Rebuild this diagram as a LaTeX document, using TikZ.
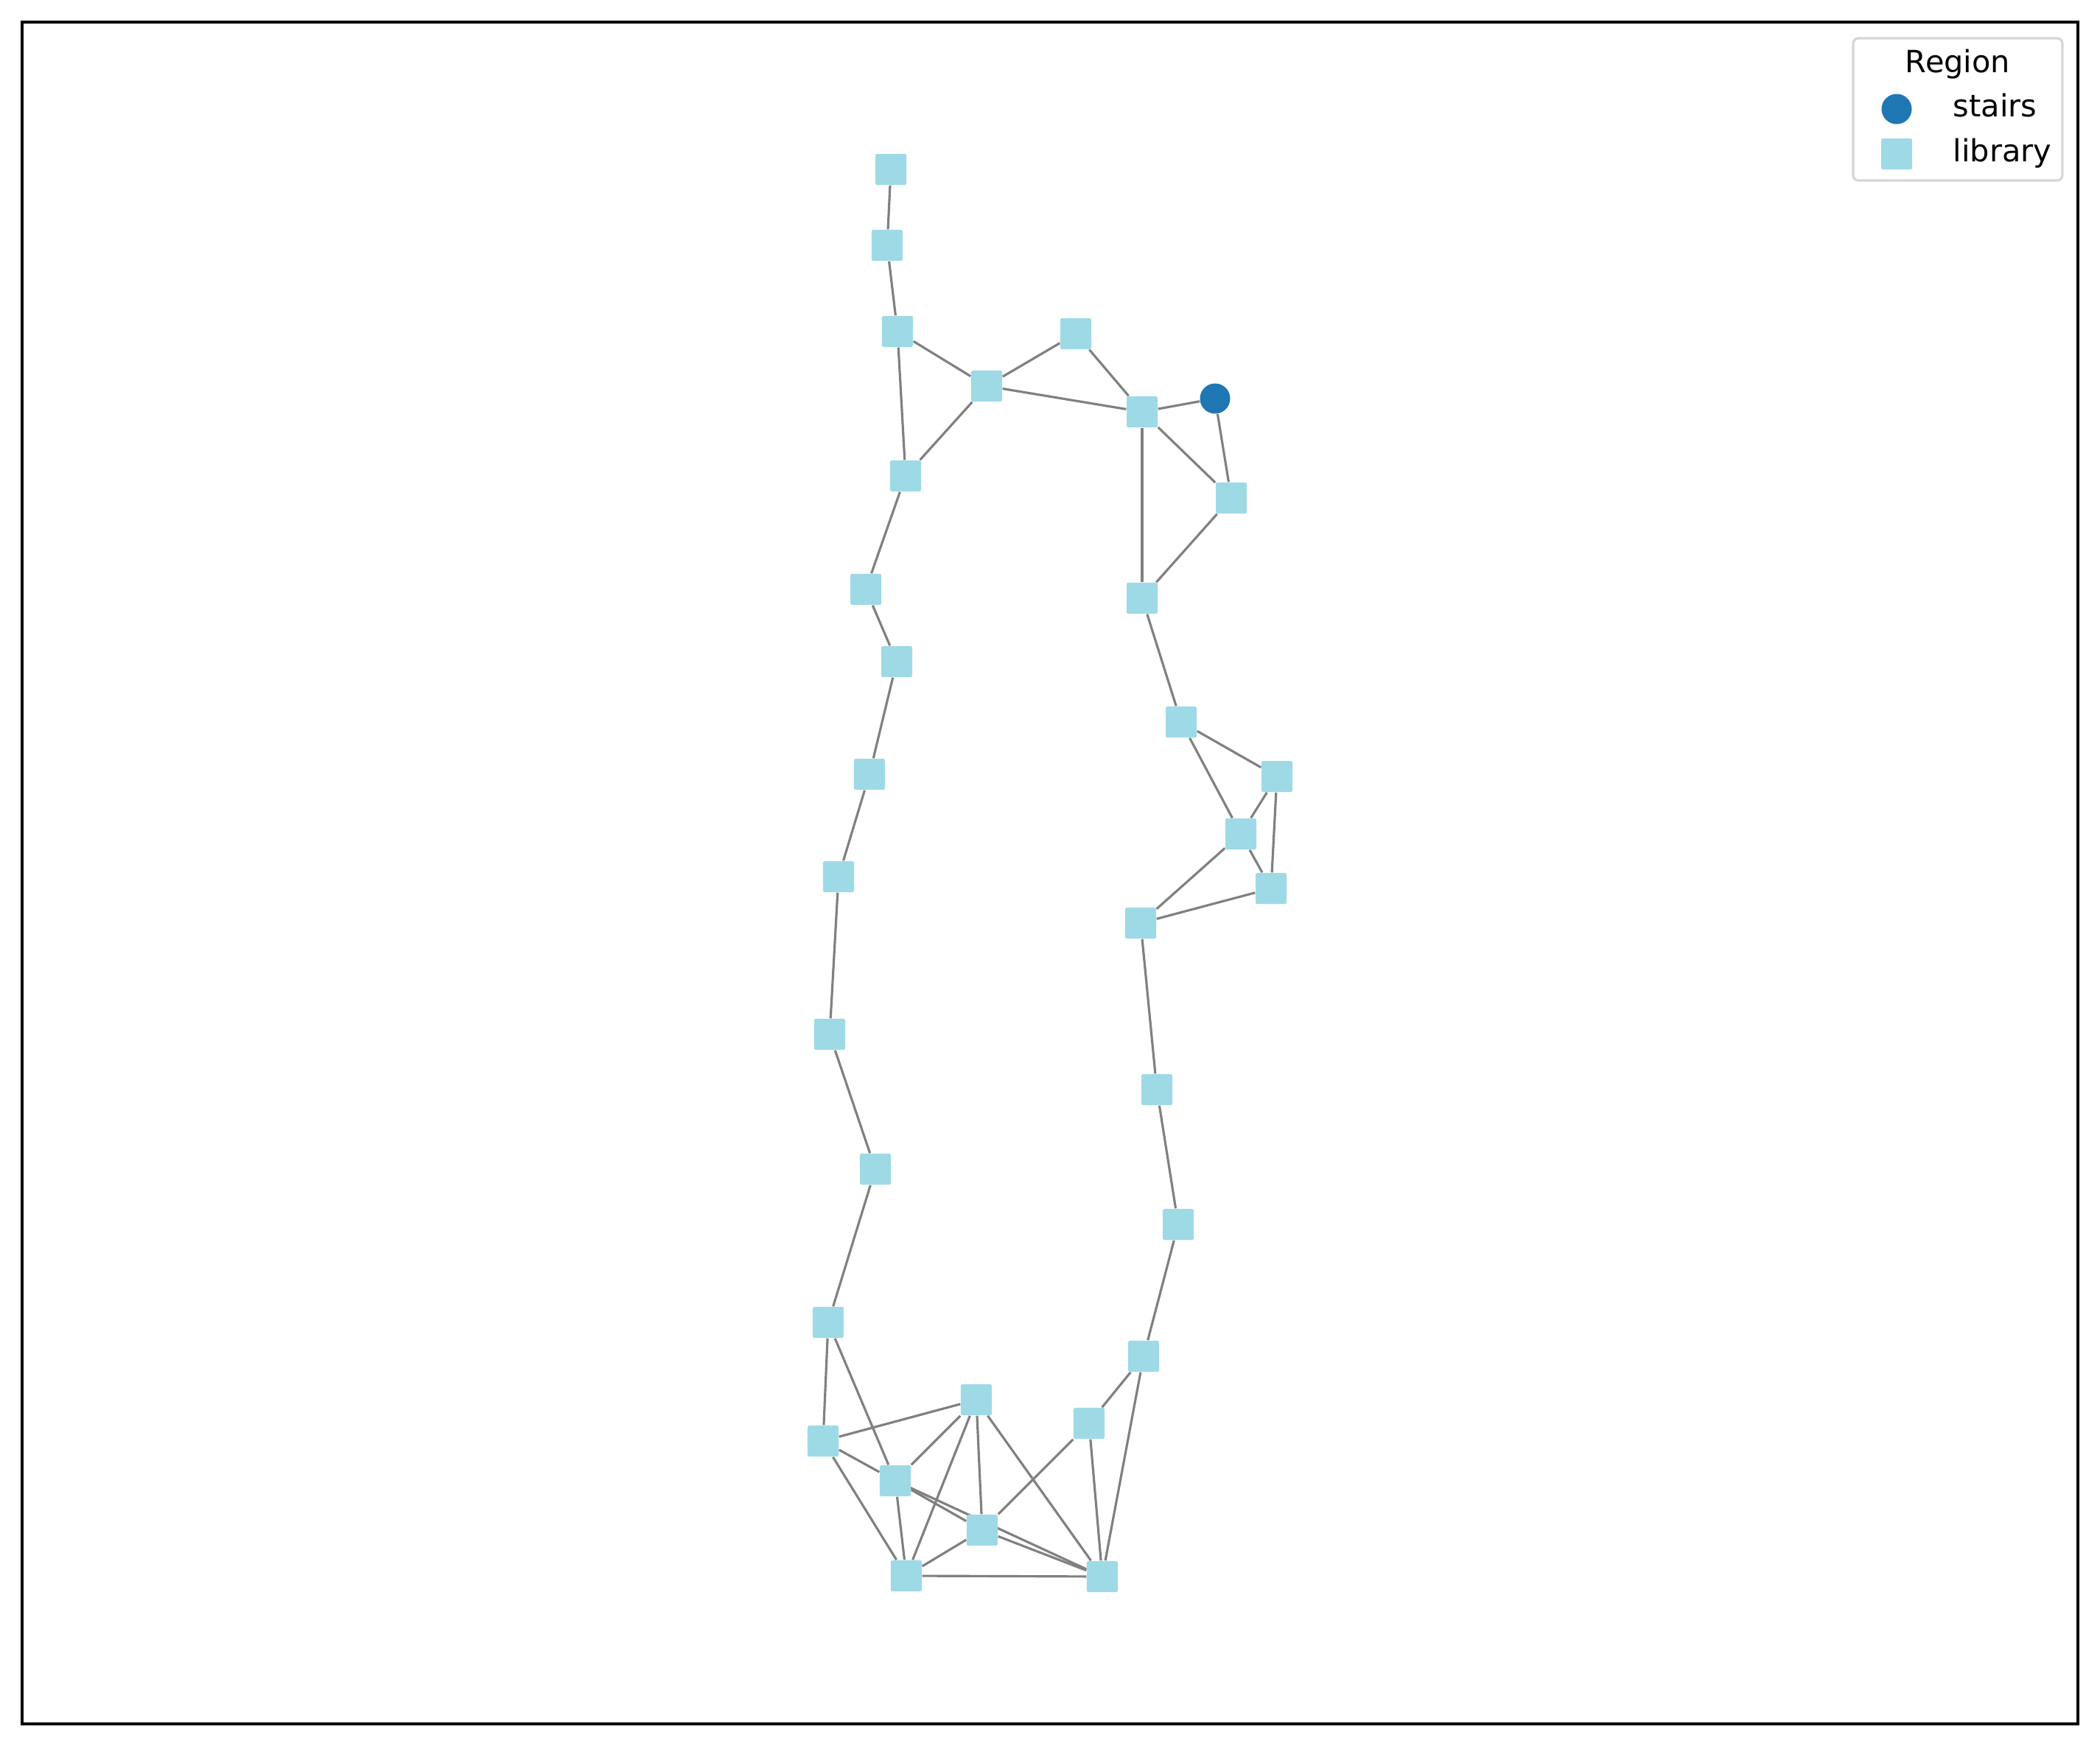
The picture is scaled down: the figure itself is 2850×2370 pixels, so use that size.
\documentclass[tikz,border=0pt]{standalone}
\usepackage{fontspec}
\setmainfont{DejaVu Sans}
\usetikzlibrary{backgrounds}
\definecolor{libcol}{RGB}{158,218,229}
\definecolor{stairscol}{RGB}{31,119,180}
\definecolor{edgecol}{RGB}{128,128,128}
\definecolor{legframe}{RGB}{214,214,214}

\begin{document}
\begin{tikzpicture}[x=0.01cm,y=-0.01cm,
	lib/.style={rectangle,fill=libcol,inner sep=0pt,minimum size=0.42cm,rounded corners=0.5pt},
	stair/.style={circle,fill=stairscol,inner sep=0pt,minimum size=0.41cm},
	edge/.style={edgecol,line width=0.9pt},
	legtext/.style={font=\fontsize{11.8pt}{14pt}\selectfont,inner sep=0pt}]
				\useasboundingbox (0,0) rectangle (2850,2370);
				\draw[line width=0.9pt] (30,30) rectangle (2820,2340);
				% nodes
				\node[lib] (lib1) at (1209,230) {};
				\node[lib] (lib2) at (1204,333) {};
				\node[lib] (lib3) at (1218,450) {};
				\node[lib] (lib4) at (1339,524) {};
				\node[lib] (lib5) at (1460,453) {};
				\node[lib] (lib6) at (1550,559) {};
				\node[stair] (stairs) at (1649,541) {};
				\node[lib] (lib7) at (1671,676) {};
				\node[lib] (lib8) at (1550,812) {};
				\node[lib] (lib9) at (1229,646) {};
				\node[lib] (lib10) at (1175,800) {};
				\node[lib] (lib11) at (1217,898) {};
				\node[lib] (lib12) at (1180,1051) {};
				\node[lib] (lib13) at (1138,1190) {};
				\node[lib] (lib14) at (1126,1404) {};
				\node[lib] (lib15) at (1188,1587) {};
				\node[lib] (lib16) at (1124,1795) {};
				\node[lib] (lib17) at (1117,1956) {};
				\node[lib] (lib18) at (1215,2010) {};
				\node[lib] (lib19) at (1325,1900) {};
				\node[lib] (lib20) at (1333,2077) {};
				\node[lib] (lib21) at (1230,2139) {};
				\node[lib] (lib22) at (1496,2140) {};
				\node[lib] (lib23) at (1478,1932) {};
				\node[lib] (lib24) at (1552,1841) {};
				\node[lib] (lib25) at (1599,1662) {};
				\node[lib] (lib26) at (1570,1479) {};
				\node[lib] (lib27) at (1548,1253) {};
				\node[lib] (lib28) at (1684,1132) {};
				\node[lib] (lib29) at (1725,1206) {};
				\node[lib] (lib30) at (1733,1054) {};
				\node[lib] (lib31) at (1603,980) {};
				% edges
				\begin{pgfonlayer}{background}
				\draw[edge] (lib1)--(lib2);
				\draw[edge] (lib2)--(lib3);
				\draw[edge] (lib3)--(lib4);
				\draw[edge] (lib3)--(lib9);
				\draw[edge] (lib4)--(lib5);
				\draw[edge] (lib4)--(lib6);
				\draw[edge] (lib4)--(lib9);
				\draw[edge] (lib5)--(lib6);
				\draw[edge] (lib6)--(stairs);
				\draw[edge] (lib6)--(lib7);
				\draw[edge] (lib6)--(lib8);
				\draw[edge] (stairs)--(lib7);
				\draw[edge] (lib7)--(lib8);
				\draw[edge] (lib8)--(lib31);
				\draw[edge] (lib31)--(lib30);
				\draw[edge] (lib31)--(lib28);
				\draw[edge] (lib30)--(lib28);
				\draw[edge] (lib30)--(lib29);
				\draw[edge] (lib28)--(lib29);
				\draw[edge] (lib28)--(lib27);
				\draw[edge] (lib29)--(lib27);
				\draw[edge] (lib27)--(lib26);
				\draw[edge] (lib26)--(lib25);
				\draw[edge] (lib25)--(lib24);
				\draw[edge] (lib24)--(lib23);
				\draw[edge] (lib24)--(lib22);
				\draw[edge] (lib23)--(lib20);
				\draw[edge] (lib23)--(lib22);
				\draw[edge] (lib9)--(lib10);
				\draw[edge] (lib10)--(lib11);
				\draw[edge] (lib11)--(lib12);
				\draw[edge] (lib12)--(lib13);
				\draw[edge] (lib13)--(lib14);
				\draw[edge] (lib14)--(lib15);
				\draw[edge] (lib15)--(lib16);
				\draw[edge] (lib16)--(lib17);
				\draw[edge] (lib16)--(lib18);
				\draw[edge] (lib17)--(lib19);
				\draw[edge] (lib17)--(lib18);
				\draw[edge] (lib17)--(lib21);
				\draw[edge] (lib19)--(lib18);
				\draw[edge] (lib19)--(lib21);
				\draw[edge] (lib19)--(lib20);
				\draw[edge] (lib19)--(lib22);
				\draw[edge] (lib18)--(lib21);
				\draw[edge] (lib18)--(lib20);
				\draw[edge] (lib18.center)--(lib22);
				\draw[edge] (lib20)--(lib22);
				\draw[edge] (lib21)--(lib20);
				\draw[edge] (lib21)--(lib22);
				\end{pgfonlayer}
				% legend
				\draw[legframe,fill=white,line width=0.9pt,rounded corners=2pt] (2515,52) rectangle (2799,245);
				\node[legtext,anchor=base] (legtitle) at (2657,99) {Region};
				\node[stair] (legstairs) at (2574,148) {};
				\node[lib] (leglib) at (2574,209) {};
				\node[legtext,anchor=base west] (legstairstext) at (2650,159) {stairs};
				\node[legtext,anchor=base west] (leglibtext) at (2650,220) {library};
\end{tikzpicture}
\end{document}
